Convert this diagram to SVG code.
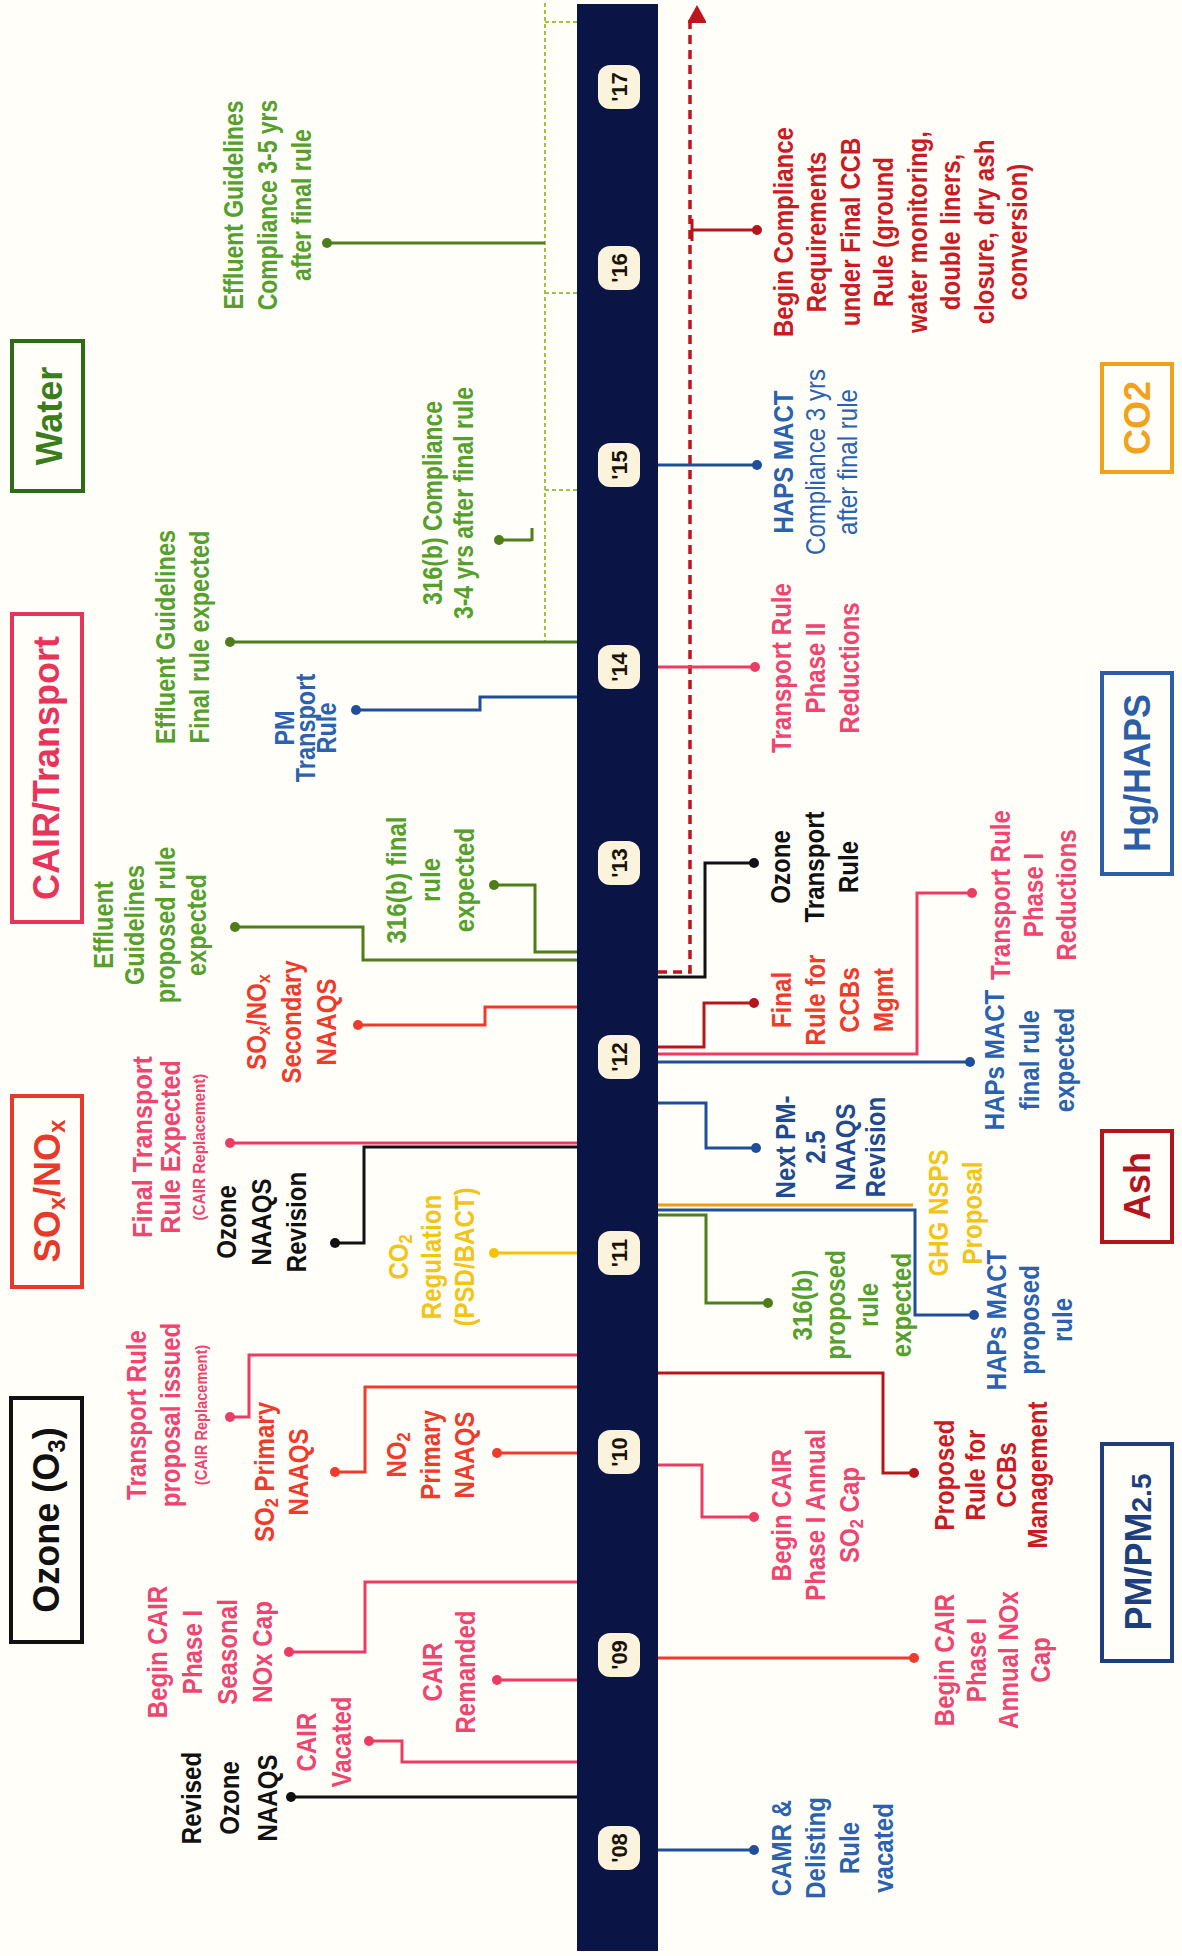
<svg xmlns="http://www.w3.org/2000/svg" width="1182" height="1956" viewBox="0 0 1182 1956">
<defs>
<style>
.bg{fill:#fffef9}
.band{fill:#0b1545}
.ln{fill:none;stroke-width:3}
.k{stroke:#111}.pk{stroke:#ec3c64}.rd{stroke:#ef3b2c}.dr{stroke:#b5161e}.bl{stroke:#1f4f9a}.gr{stroke:#4e7d1b}.ye{stroke:#f4c20d}.or{stroke:#f39a10}
.dash{fill:none;stroke:#9cc43c;stroke-width:2;stroke-dasharray:4 3}
.rdash{fill:none;stroke:#c0141e;stroke-width:3.5;stroke-dasharray:9 6}
.t{font-family:"Liberation Sans",Arial,sans-serif;font-weight:bold;font-size:28px;text-anchor:middle}
.tk{fill:#111}.tpk{fill:#ef4570}.trd{fill:#f03a2a}.tdr{fill:#cc1a22}.tbl{fill:#2a62b0}.tdb{fill:#1f4a90}.tgr{fill:#55a02a}.tye{fill:#f3c316}
.box{fill:none;stroke-width:4}
.cat{font-family:"Liberation Sans",Arial,sans-serif;font-weight:bold;font-size:36px;text-anchor:middle}
.yb{fill:#fbf3dc}
.yt{font-family:"Liberation Sans",Arial,sans-serif;font-weight:bold;font-size:22px;text-anchor:middle;fill:#1a1208}
</style>
<marker id="dk" viewBox="-6 -6 12 12" markerWidth="12" markerHeight="12" markerUnits="userSpaceOnUse"><circle r="5" fill="#111"/></marker>
<marker id="dpk" viewBox="-6 -6 12 12" markerWidth="12" markerHeight="12" markerUnits="userSpaceOnUse"><circle r="5" fill="#ec3c64"/></marker>
<marker id="drd" viewBox="-6 -6 12 12" markerWidth="12" markerHeight="12" markerUnits="userSpaceOnUse"><circle r="5" fill="#ef3b2c"/></marker>
<marker id="ddr" viewBox="-6 -6 12 12" markerWidth="12" markerHeight="12" markerUnits="userSpaceOnUse"><circle r="5" fill="#b5161e"/></marker>
<marker id="dbl" viewBox="-6 -6 12 12" markerWidth="12" markerHeight="12" markerUnits="userSpaceOnUse"><circle r="5" fill="#1f4f9a"/></marker>
<marker id="dgr" viewBox="-6 -6 12 12" markerWidth="12" markerHeight="12" markerUnits="userSpaceOnUse"><circle r="5" fill="#4e7d1b"/></marker>
<marker id="dye" viewBox="-6 -6 12 12" markerWidth="12" markerHeight="12" markerUnits="userSpaceOnUse"><circle r="5" fill="#f4c20d"/></marker>
<marker id="arr" viewBox="0 0 20 18" refX="10" refY="2" markerWidth="20" markerHeight="18" markerUnits="userSpaceOnUse" orient="auto-start-reverse"><path d="M0 18 L10 0 L20 18 Z" fill="#c0141e" transform="rotate(90 10 9)"/></marker>
</defs>
<rect class="bg" x="0" y="0" width="1182" height="1956"/>

<g id="timeline">
<rect class="band" x="577" y="4" width="81" height="1947"/>
</g>

<g id="connectors">
<path class="dash" d="M545 3 V642 M545 22 H577 M545 293 H577 M545 490 H577"/>
<path class="ln gr" marker-start="url(#dgr)" d="M327 243 H545"/>
<path class="ln gr" marker-start="url(#dgr)" d="M499 540 H532 M532 528 V541"/>
<path class="ln gr" marker-start="url(#dgr)" d="M230 642 H577"/>
<path class="ln bl" marker-start="url(#dbl)" d="M356 710 H480 V697 H577"/>
<path class="ln gr" marker-start="url(#dgr)" d="M494 885 H535 V952 H577"/>
<path class="ln gr" marker-start="url(#dgr)" d="M235 927 H363 V960 H577"/>
<path class="ln rd" marker-start="url(#drd)" d="M358 1025 H485 V1007 H577"/>
<path class="ln pk" marker-start="url(#dpk)" d="M230 1143 H577"/>
<path class="ln k" marker-start="url(#dk)" d="M335 1243 H364 V1147 H577"/>
<path class="ln ye" marker-start="url(#dye)" d="M494 1253 H577"/>
<path class="ln pk" marker-start="url(#dpk)" d="M230 1417 H249 V1355 H577"/>
<path class="ln rd" marker-start="url(#drd)" d="M335 1472 H365 V1387 H577"/>
<path class="ln rd" marker-start="url(#drd)" d="M497 1453 H577"/>
<path class="ln pk" marker-start="url(#dpk)" d="M289 1652 H365 V1582 H577"/>
<path class="ln pk" marker-start="url(#dpk)" d="M497 1680 H577"/>
<path class="ln pk" marker-start="url(#dpk)" d="M369 1741 H402 V1762 H577"/>
<path class="ln k" marker-start="url(#dk)" d="M291 1797 H577"/>

<path class="rdash" marker-end="url(#arr)" d="M658 972 H690 V14"/>
<path class="ln dr" marker-start="url(#ddr)" d="M757 230 H691 M692 219 V241"/>
<path class="ln bl" marker-start="url(#dbl)" d="M757 465 H658"/>
<path class="ln pk" marker-start="url(#dpk)" d="M755 667 H658"/>
<path class="ln k" marker-start="url(#dk)" d="M754 863 H705 V977 H658"/>
<path class="ln pk" marker-start="url(#dpk)" d="M972 893 H917 V1054 H658"/>
<path class="ln dr" marker-start="url(#ddr)" d="M754 1003 H704 V1047 H658"/>
<path class="ln bl" marker-start="url(#dbl)" d="M970 1062 H658"/>
<path class="ln bl" marker-start="url(#dbl)" d="M756 1148 H706 V1103 H658"/>
<path class="ln or" d="M913 1205 H658"/>
<path class="ln bl" marker-start="url(#dbl)" d="M974 1315 H915 V1210 H658"/>
<path class="ln gr" marker-start="url(#dgr)" d="M768 1303 H706 V1215 H658"/>
<path class="ln dr" marker-start="url(#ddr)" d="M914 1473 H883 V1373 H658"/>
<path class="ln pk" marker-start="url(#dpk)" d="M754 1517 H702 V1465 H658"/>
<path class="ln rd" marker-start="url(#drd)" d="M914 1658 H658"/>
<path class="ln bl" marker-start="url(#dbl)" d="M754 1850 H658"/>
</g>

<g id="years">
<g id="y08"><rect class="yb" x="598" y="1826" width="42" height="44" rx="12"/><text class="yt" transform="translate(627,1848) rotate(-90)">'08</text></g>
<g id="y09"><rect class="yb" x="598" y="1633" width="42" height="44" rx="12"/><text class="yt" transform="translate(627,1655) rotate(-90)">'09</text></g>
<g id="y10"><rect class="yb" x="598" y="1430" width="42" height="44" rx="12"/><text class="yt" transform="translate(627,1452) rotate(-90)">'10</text></g>
<g id="y11"><rect class="yb" x="598" y="1231" width="42" height="44" rx="12"/><text class="yt" transform="translate(627,1253) rotate(-90)">'11</text></g>
<g id="y12"><rect class="yb" x="598" y="1035" width="42" height="44" rx="12"/><text class="yt" transform="translate(627,1057) rotate(-90)">'12</text></g>
<g id="y13"><rect class="yb" x="598" y="841" width="42" height="44" rx="12"/><text class="yt" transform="translate(627,863) rotate(-90)">'13</text></g>
<g id="y14"><rect class="yb" x="598" y="645" width="42" height="44" rx="12"/><text class="yt" transform="translate(627,667) rotate(-90)">'14</text></g>
<g id="y15"><rect class="yb" x="598" y="443" width="42" height="44" rx="12"/><text class="yt" transform="translate(627,465) rotate(-90)">'15</text></g>
<g id="y16"><rect class="yb" x="598" y="246" width="42" height="44" rx="12"/><text class="yt" transform="translate(627,268) rotate(-90)">'16</text></g>
<g id="y17"><rect class="yb" x="598" y="65" width="42" height="44" rx="12"/><text class="yt" transform="translate(627,87) rotate(-90)">'17</text></g>
</g>

<g id="categories">
<g id="cat-water"><rect class="box" x="12" y="341" width="71" height="150" stroke="#2f6a14"/><text class="cat" fill="#3a7d1a" font-size="38" transform="translate(62,416) rotate(-90)">Water</text></g>
<g id="cat-cair"><rect class="box" x="12" y="614" width="70" height="308" stroke="#e8345a"/><text class="cat" fill="#e8345a" font-size="35" transform="translate(59,768) rotate(-90)">CAIR/Transport</text></g>
<g id="cat-sox"><rect class="box" x="12" y="1096" width="70" height="191" stroke="#e83a2a"/><text class="cat" fill="#e83a2a" font-size="38" transform="translate(60,1191) rotate(-90)">SO<tspan font-size="24" dy="5">x</tspan><tspan dy="-5">/NO</tspan><tspan font-size="24" dy="5">x</tspan></text></g>
<g id="cat-ozone"><rect class="box" x="11" y="1398" width="71" height="244" stroke="#111"/><text class="cat" fill="#111" font-size="36" transform="translate(59,1520) rotate(-90)">Ozone (O<tspan font-size="24" dy="6">3</tspan><tspan dy="-6">)</tspan></text></g>
<g id="cat-co2"><rect class="box" x="1102" y="364" width="70" height="108" stroke="#f2a21a"/><text class="cat" fill="#f2a21a" font-weight="normal" transform="translate(1150,418) rotate(-90)">CO2</text></g>
<g id="cat-hg"><rect class="box" x="1102" y="673" width="70" height="201" stroke="#2c5ea8"/><text class="cat" fill="#2c5ea8" transform="translate(1150,773) rotate(-90)">Hg/HAPS</text></g>
<g id="cat-ash"><rect class="box" x="1102" y="1131" width="70" height="111" stroke="#b3151d"/><text class="cat" fill="#b3151d" transform="translate(1150,1186) rotate(-90)">Ash</text></g>
<g id="cat-pm"><rect class="box" x="1102" y="1444" width="70" height="217" stroke="#1e3f7c"/><text class="cat" fill="#1e3f7c" font-size="38" transform="translate(1151,1552) rotate(-90)">PM/PM<tspan font-size="28">2.5</tspan></text></g>
</g>

<g id="events-left">
<g id="n-eff-compliance"><text class="t tgr" transform="translate(243,205) rotate(-90) scale(.82 1)"><tspan x="0" y="0">Effluent Guidelines</tspan><tspan x="0" y="34">Compliance 3-5 yrs</tspan><tspan x="0" y="68">after final rule</tspan></text></g>
<g id="n-316b-compliance"><text class="t tgr" transform="translate(442,503) rotate(-90) scale(.82 1)"><tspan x="0" y="0">316(b) Compliance</tspan><tspan x="0" y="31">3-4 yrs after final rule</tspan></text></g>
<g id="n-eff-final"><text class="t tgr" transform="translate(175,637) rotate(-90) scale(.84 1)"><tspan x="0" y="0">Effluent Guidelines</tspan><tspan x="0" y="34">Final rule expected</tspan></text></g>
<g id="n-pm-transport"><text class="t tbl" font-size="20" transform="translate(294,728) rotate(-90) scale(.84 1)"><tspan x="0" y="0">PM</tspan><tspan x="0" y="21">Transport</tspan><tspan x="0" y="42">Rule</tspan></text></g>
<g id="n-eff-proposed"><text class="t tgr" transform="translate(113,925) rotate(-90) scale(.84 1)"><tspan x="0" y="0">Effluent</tspan><tspan x="0" y="31">Guidelines</tspan><tspan x="0" y="62">proposed rule</tspan><tspan x="0" y="93">expected</tspan></text></g>
<g id="n-316b-final"><text class="t tgr" transform="translate(406,880) rotate(-90) scale(.86 1)"><tspan x="0" y="0">316(b) final</tspan><tspan x="0" y="34">rule</tspan><tspan x="0" y="68">expected</tspan></text></g>
<g id="n-sox-secondary"><text class="t trd" transform="translate(266,1022) rotate(-90) scale(.86 1)"><tspan x="0" y="0">SO<tspan font-size="19" dy="4">x</tspan><tspan dy="-4">/NO</tspan><tspan font-size="19" dy="4">x</tspan></tspan><tspan x="0" y="35">Secondary</tspan><tspan x="0" y="70">NAAQS</tspan></text></g>
<g id="n-final-transport"><text class="t tpk" font-size="27" transform="translate(152,1147) rotate(-90) scale(.9 1)"><tspan x="0" y="0">Final Transport</tspan><tspan x="0" y="28">Rule Expected</tspan><tspan x="0" y="53" font-size="17">(CAIR Replacement)</tspan></text></g>
<g id="n-ozone-revision"><text class="t tk" transform="translate(236,1222) rotate(-90) scale(.86 1)"><tspan x="0" y="0">Ozone</tspan><tspan x="0" y="35">NAAQS</tspan><tspan x="0" y="70">Revision</tspan></text></g>
<g id="n-co2-reg"><text class="t tye" transform="translate(408,1257) rotate(-90) scale(.86 1)"><tspan x="0" y="0">CO<tspan font-size="19" dy="4">2</tspan></tspan><tspan x="0" y="33">Regulation</tspan><tspan x="0" y="66">(PSD/BACT)</tspan></text></g>
<g id="n-transport-proposal"><text class="t tpk" font-size="27" transform="translate(146,1415) rotate(-90) scale(.86 1)"><tspan x="0" y="0">Transport Rule</tspan><tspan x="0" y="34">proposal issued</tspan><tspan x="0" y="61" font-size="17">(CAIR Replacement)</tspan></text></g>
<g id="n-so2-primary"><text class="t trd" transform="translate(274,1472) rotate(-90) scale(.86 1)"><tspan x="0" y="0">SO<tspan font-size="19" dy="4">2</tspan><tspan dy="-4"> Primary</tspan></tspan><tspan x="0" y="34">NAAQS</tspan></text></g>
<g id="n-no2-primary"><text class="t trd" transform="translate(406,1455) rotate(-90) scale(.86 1)"><tspan x="0" y="0">NO<tspan font-size="19" dy="4">2</tspan></tspan><tspan x="0" y="34">Primary</tspan><tspan x="0" y="68">NAAQS</tspan></text></g>
<g id="n-cair-seasonal"><text class="t tpk" transform="translate(167,1652) rotate(-90) scale(.86 1)"><tspan x="0" y="0">Begin CAIR</tspan><tspan x="0" y="35">Phase I</tspan><tspan x="0" y="70">Seasonal</tspan><tspan x="0" y="105">NOx Cap</tspan></text></g>
<g id="n-cair-remanded"><text class="t tpk" transform="translate(442,1672) rotate(-90) scale(.86 1)"><tspan x="0" y="0">CAIR</tspan><tspan x="0" y="33">Remanded</tspan></text></g>
<g id="n-cair-vacated"><text class="t tpk" transform="translate(316,1742) rotate(-90) scale(.86 1)"><tspan x="0" y="0">CAIR</tspan><tspan x="0" y="35">Vacated</tspan></text></g>
<g id="n-revised-ozone"><text class="t tk" transform="translate(201,1798) rotate(-90) scale(.86 1)"><tspan x="0" y="0">Revised</tspan><tspan x="0" y="38">Ozone</tspan><tspan x="0" y="76">NAAQS</tspan></text></g>
</g>

<g id="events-right">
<g id="n-ccb-compliance"><text class="t tdr" transform="translate(793,232) rotate(-90) scale(.86 1)"><tspan x="0" y="0">Begin Compliance</tspan><tspan x="0" y="33.5">Requirements</tspan><tspan x="0" y="67">under Final CCB</tspan><tspan x="0" y="100.5">Rule (ground</tspan><tspan x="0" y="134">water monitoring,</tspan><tspan x="0" y="167.5">double liners,</tspan><tspan x="0" y="201">closure, dry ash</tspan><tspan x="0" y="234.5">conversion)</tspan></text></g>
<g id="n-haps-compliance"><text class="t tbl" transform="translate(793,462) rotate(-90) scale(.86 1)"><tspan x="0" y="0">HAPS MACT</tspan><tspan x="0" y="32" font-weight="normal">Compliance 3 yrs</tspan><tspan x="0" y="64" font-weight="normal">after final rule</tspan></text></g>
<g id="n-transport-phase2"><text class="t tpk" transform="translate(791,668) rotate(-90) scale(.86 1)"><tspan x="0" y="0">Transport Rule</tspan><tspan x="0" y="34">Phase II</tspan><tspan x="0" y="68">Reductions</tspan></text></g>
<g id="n-ozone-transport"><text class="t tk" transform="translate(790,867) rotate(-90) scale(.86 1)"><tspan x="0" y="0">Ozone</tspan><tspan x="0" y="34">Transport</tspan><tspan x="0" y="68">Rule</tspan></text></g>
<g id="n-transport-phase1"><text class="t tpk" transform="translate(1010,895) rotate(-90) scale(.86 1)"><tspan x="0" y="0">Transport Rule</tspan><tspan x="0" y="33">Phase I</tspan><tspan x="0" y="66">Reductions</tspan></text></g>
<g id="n-ccb-final"><text class="t trd" transform="translate(791,1000) rotate(-90) scale(.86 1)"><tspan x="0" y="0">Final</tspan><tspan x="0" y="34">Rule for</tspan><tspan x="0" y="68">CCBs</tspan><tspan x="0" y="102">Mgmt</tspan></text></g>
<g id="n-haps-final"><text class="t tbl" transform="translate(1004,1060) rotate(-90) scale(.86 1)"><tspan x="0" y="0">HAPs MACT</tspan><tspan x="0" y="35">final rule</tspan><tspan x="0" y="70">expected</tspan></text></g>
<g id="n-pm25-next"><text class="t tdb" transform="translate(795,1147) rotate(-90) scale(.86 1)"><tspan x="0" y="0">Next PM-</tspan><tspan x="0" y="30">2.5</tspan><tspan x="0" y="60">NAAQS</tspan><tspan x="0" y="90">Revision</tspan></text></g>
<g id="n-ghg-nsps"><text class="t tye" transform="translate(948,1213) rotate(-90) scale(.86 1)"><tspan x="0" y="0">GHG NSPS</tspan><tspan x="0" y="34">Proposal</tspan></text></g>
<g id="n-haps-proposed"><text class="t tbl" transform="translate(1006,1320) rotate(-90) scale(.86 1)"><tspan x="0" y="0">HAPs MACT</tspan><tspan x="0" y="33">proposed</tspan><tspan x="0" y="66">rule</tspan></text></g>
<g id="n-316b-proposed"><text class="t tgr" transform="translate(812,1305) rotate(-90) scale(.86 1)"><tspan x="0" y="0">316(b)</tspan><tspan x="0" y="33">proposed</tspan><tspan x="0" y="66">rule</tspan><tspan x="0" y="99">expected</tspan></text></g>
<g id="n-ccb-proposed"><text class="t tdr" transform="translate(954,1475) rotate(-90) scale(.86 1)"><tspan x="0" y="0">Proposed</tspan><tspan x="0" y="31">Rule for</tspan><tspan x="0" y="62">CCBs</tspan><tspan x="0" y="93">Management</tspan></text></g>
<g id="n-cair-so2"><text class="t tpk" transform="translate(791,1515) rotate(-90) scale(.86 1)"><tspan x="0" y="0">Begin CAIR</tspan><tspan x="0" y="34">Phase I Annual</tspan><tspan x="0" y="68">SO<tspan font-size="19" dy="4">2</tspan><tspan dy="-4"> Cap</tspan></tspan></text></g>
<g id="n-cair-nox"><text class="t tpk" transform="translate(954,1660) rotate(-90) scale(.86 1)"><tspan x="0" y="0">Begin CAIR</tspan><tspan x="0" y="32">Phase I</tspan><tspan x="0" y="64">Annual NOx</tspan><tspan x="0" y="96">Cap</tspan></text></g>
<g id="n-camr"><text class="t tbl" transform="translate(791,1848) rotate(-90) scale(.86 1)"><tspan x="0" y="0">CAMR &amp;</tspan><tspan x="0" y="34">Delisting</tspan><tspan x="0" y="68">Rule</tspan><tspan x="0" y="102">vacated</tspan></text></g>
</g>
</svg>
